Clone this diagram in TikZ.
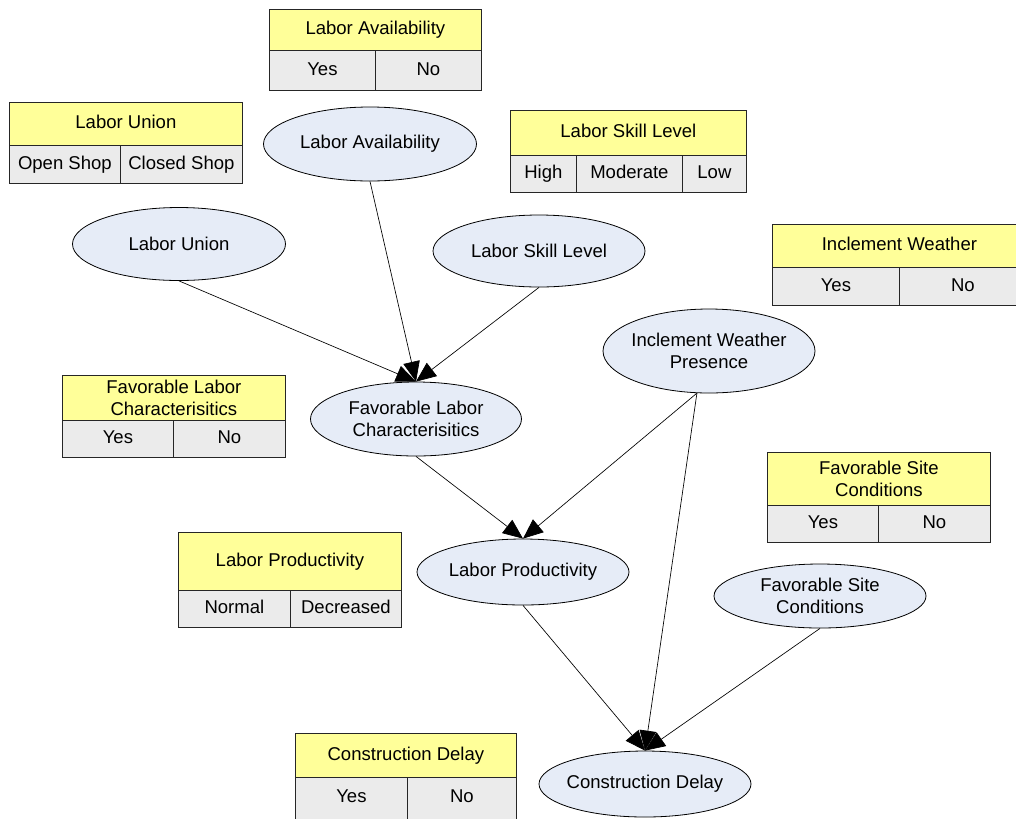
\documentclass[tikz,border=0pt]{standalone}
\usepackage{fontspec}
\setmainfont{Liberation Sans}
\usetikzlibrary{arrows.meta,shapes.geometric}
\definecolor{yhdr}{HTML}{FFFF99}
\definecolor{gcell}{HTML}{EBEBEB}
\definecolor{nodeblue}{HTML}{E6ECF7}
\begin{document}
\begin{tikzpicture}[x=0.75pt,y=-0.75pt,
 fs/.style={font=\fontsize{13.9}{16.5}\selectfont},
 sz/.style 2 args={minimum width=#1*0.75pt, minimum height=#2*0.75pt},
 cell/.style={draw=black!85, line width=0.6pt, inner sep=0pt, anchor=north west, fs, align=center},
 one/.style={text height=10pt, text depth=2.9pt},
 hdr/.style={cell, fill=yhdr, one},
 hdrtwo/.style={cell, fill=yhdr},
 val/.style={cell, fill=gcell, one},
 var/.style={ellipse, draw=black, line width=0.6pt, fill=nodeblue, inner xsep=-30pt, inner ysep=-12pt, fs, align=center},
 arr/.style={-{Triangle[length=15pt,width=12.5pt]}, line width=0.5pt}
]
\clip (0,0) rectangle (1016,818);
\fill[white] (0,0) rectangle (1016,818);

% ---- variable nodes ----
\node[var, sz={213}{74}] (la)  at (370,144) {Labor Availability};
\node[var, sz={213}{73}] (lu)  at (179,244) {Labor Union};
\node[var, sz={212}{72}] (lsl) at (539,251) {Labor Skill Level};
\node[var, sz={212}{84}] (iwp) at (709,351) {Inclement Weather\\Presence};
\node[var, sz={211}{74}] (flc) at (416,419) {Favorable Labor\\Characterisitics};
\node[var, sz={212}{66}] (lp)  at (523,572) {Labor Productivity};
\node[var, sz={212}{64}] (fsc) at (820,596) {Favorable Site\\Conditions};
\node[var, sz={212}{66}] (cd)  at (645,784) {Construction Delay};

% ---- tables ----
% Labor Availability
\node[hdr, sz={212}{41}] (lah) at (269,9) {Labor Availability};
\node[val, sz={106}{40}] (lay) at (269,50) {Yes};
\node[val, sz={106}{40}] (lan) at (375,50) {No};
% Labor Union
\node[hdr, sz={233}{43}] (luh) at (9,102) {Labor Union};
\node[val, sz={111}{38}] (luo) at (9,145) {Open Shop};
\node[val, sz={122}{38}] (luc) at (120,145) {Closed Shop};
% Labor Skill Level
\node[hdr, sz={236}{45}] (lslh) at (510,110) {Labor Skill Level};
\node[val, sz={66}{37}]  (lslhi) at (510,155) {High};
\node[val, sz={106}{37}] (lslm)  at (576,155) {Moderate};
\node[val, sz={64}{37}]  (lsllo) at (682,155) {Low};
% Inclement Weather
\node[hdr, sz={254}{43}] (iwh) at (772,224) {Inclement Weather};
\node[val, sz={127}{38}] (iwy) at (772,267) {Yes};
\node[val, sz={127}{38}] (iwn) at (899,267) {No};
% Favorable Labor Characterisitics
\node[hdrtwo, sz={223}{45}] (flch) at (62,375) {Favorable Labor\\Characterisitics};
\node[val, sz={111}{37}] (flcy) at (62,420) {Yes};
\node[val, sz={112}{37}] (flcn) at (173,420) {No};
% Favorable Site Conditions
\node[hdrtwo, sz={223}{53}] (fsch) at (767,452) {Favorable Site\\Conditions};
\node[val, sz={111}{37}] (fscy) at (767,505) {Yes};
\node[val, sz={112}{37}] (fscn) at (878,505) {No};
% Labor Productivity
\node[hdr, sz={223}{58}] (lph) at (178,532) {Labor Productivity};
\node[val, sz={112}{37}] (lpn) at (178,590) {Normal};
\node[val, sz={111}{37}] (lpd) at (290,590) {Decreased};
% Construction Delay
\node[hdr, sz={221}{44}] (cdh) at (295,733) {Construction Delay};
\node[val, sz={112}{46}] (cdy) at (295,777) {\raisebox{2pt}{Yes}};
\node[val, sz={109}{46}] (cdn) at (407,777) {\raisebox{2pt}{No}};

% ---- connectors ----
\draw[arr] (lu.south)  -- (flc.north);
\draw[arr] (la.south)  -- (flc.north);
\draw[arr] (lsl.south) -- (flc.north);
\draw[arr] (flc.south) -- (lp.north);
\draw[arr] (iwp.-106)  -- (lp.north);
\draw[arr] (iwp.-106)  -- (cd.north);
\draw[arr] (lp.south)  -- (cd.north);
\draw[arr] (fsc.south) -- (cd.north);
\end{tikzpicture}
\end{document}
